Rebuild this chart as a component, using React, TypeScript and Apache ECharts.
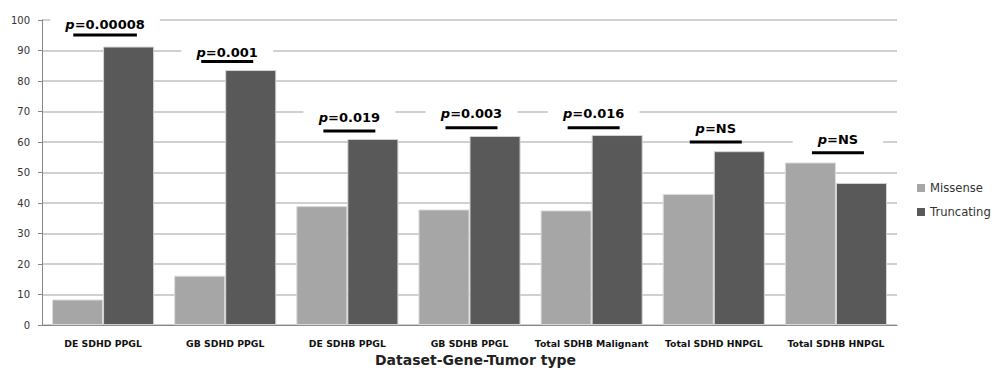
import React, { useEffect, useRef } from "react";
import * as echarts from "echarts";

const categories = [
  "DE SDHD PPGL",
  "GB SDHD PPGL",
  "DE SDHB PPGL",
  "GB SDHB PPGL",
  "Total SDHB Malignant",
  "Total SDHD HNPGL",
  "Total SDHB HNPGL",
];
const missense = [8.4, 16.2, 39.0, 37.9, 37.6, 43.0, 53.3];
const truncating = [91.3, 83.6, 61.0, 62.0, 62.3, 57.0, 46.6];
const pValues = ["0.00008", "0.001", "0.019", "0.003", "0.016", "NS", "NS"];
// heights (in axis units) of the p-value text and the bar beneath it
const pTextLevel = [98.5, 89.5, 68.2, 69.5, 69.3, 64.5, 60.9];
const pLineLevel = [95.1, 86.4, 63.6, 64.7, 64.7, 60.0, 56.5];
const yTicks = { min: 0, max: 100, interval: 10 };

const FONT = "DejaVu Sans";

export default function App() {
  const ref = useRef<HTMLDivElement>(null);
  useEffect(() => {
    document.body.style.margin = "0";
    const chart = echarts.init(ref.current!, null, { renderer: "svg" });
    const annData = categories.map((_, i) => [i, pTextLevel[i], pLineLevel[i]]);
    chart.setOption({
      animation: false,
      backgroundColor: "#fff",
      grid: { left: 42, right: 100, top: 20, bottom: 44 },
      legend: {
        orient: "vertical",
        left: 912,
        top: 177,
        icon: "rect",
        itemWidth: 8,
        itemHeight: 8,
        itemGap: 12,
        itemStyle: { borderWidth: 0 },
        data: ["Missense", "Truncating"],
        textStyle: { fontFamily: FONT, fontSize: 11.6, color: "#333" },
      },
      xAxis: {
        type: "category",
        data: categories,
        axisLine: { lineStyle: { color: "#868686", width: 1 } },
        axisTick: { show: false },
        axisLabel: {
          interval: 0,
          margin: 14,
          fontFamily: FONT,
          fontWeight: "bold",
          fontSize: 9.3,
          color: "#111",
        },
        name: "Dataset-Gene-Tumor type",
        nameLocation: "middle",
        nameGap: 27,
        nameTextStyle: {
          fontFamily: FONT,
          fontWeight: "bold",
          fontSize: 14,
          color: "#222",
          padding: [0, 0, 0, 12],
        },
      },
      yAxis: {
        type: "value",
        min: yTicks.min,
        max: yTicks.max,
        interval: yTicks.interval,
        axisLine: { show: true, lineStyle: { color: "#868686", width: 1 } },
        axisTick: { show: true, length: 4, lineStyle: { color: "#868686" } },
        axisLabel: { margin: 12, fontFamily: FONT, fontSize: 10, color: "#333" },
        splitLine: { lineStyle: { color: "#c0c0c0", width: 1.5 } },
      },
      series: [
        {
          name: "Missense",
          type: "bar",
          data: missense,
          barGap: "0%",
          barCategoryGap: "16.4%",
          itemStyle: { color: "#a6a6a6", borderColor: "#dcdcdc", borderWidth: 1 },
        },
        {
          name: "Truncating",
          type: "bar",
          data: truncating,
          itemStyle: { color: "#595959", borderColor: "#d4d4d4", borderWidth: 1 },
        },
        {
          type: "custom",
          silent: true,
          clip: false,
          z: 5,
          data: annData,
          renderItem: (params: any, api: any) => {
            const idx = api.value(0);
            const tp = api.coord([idx, api.value(1)]);
            const lp = api.coord([idx, api.value(2)]);
            const bw = api.size([1, 0])[0];
            const cx = tp[0] + 2;
            const label = pValues[params.dataIndex];
            const textW = (label.length + 2) * 13 * 0.68;
            const boxW = Math.max(bw * 0.74, textW + 30);
            const lineW = Math.max(52, textW * 0.8);
            return {
              type: "group",
              children: [
                {
                  type: "rect",
                  shape: { x: cx - boxW / 2, y: tp[1] - 10, width: boxW, height: 20 },
                  style: { fill: "#fff" },
                },
                {
                  type: "text",
                  x: cx,
                  y: tp[1],
                  style: {
                    text: `{i|p}{b|=${label}}`,
                    align: "center",
                    verticalAlign: "middle",
                    rich: {
                      i: { fontFamily: FONT, fontSize: 13, fontWeight: "bold", fontStyle: "italic", fill: "#000" },
                      b: { fontFamily: FONT, fontSize: 13, fontWeight: "bold", fill: "#000" },
                    },
                  },
                },
                {
                  type: "line",
                  shape: { x1: cx - lineW / 2, y1: lp[1], x2: cx + lineW / 2, y2: lp[1] },
                  style: { stroke: "#000", lineWidth: 3 },
                },
              ],
            };
          },
        },
      ],
    });
    return () => chart.dispose();
  }, []);
  return <div ref={ref} style={{ width: 997, height: 372 }} />;
}
